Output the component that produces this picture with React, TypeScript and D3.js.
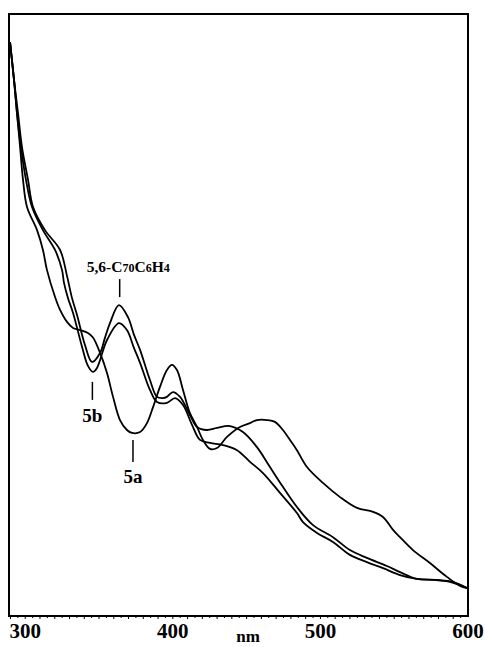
import React from 'react';
import * as d3 from 'd3';

// wavelengths (nm) and absorbance
const nm5a = [289.7, 292.4, 294.4, 296.5, 298.5, 301.2, 308.0, 312.0, 314.7, 320.2, 323.6, 328.3, 332.4, 337.1, 342.5, 345.9, 350.7, 355.4, 359.5, 364.2, 368.9, 372.3, 377.8, 382.5, 386.6, 391.3, 396.0, 399.4, 402.8, 406.9, 411.6, 416.4, 420.4, 425.2, 429.9, 436.7, 445.5, 452.3, 457.0, 463.8, 469.2, 474.6, 479.4, 484.1, 490.9, 501.7, 513.3, 524.8, 535.6, 542.4, 549.2, 553.9, 562.7, 574.2, 585.7, 594.6, 599.3];
const abs5a = [1.907, 1.781, 1.671, 1.558, 1.449, 1.359, 1.282, 1.216, 1.150, 1.060, 1.017, 0.977, 0.957, 0.950, 0.940, 0.925, 0.874, 0.807, 0.728, 0.651, 0.618, 0.608, 0.611, 0.641, 0.694, 0.761, 0.817, 0.834, 0.817, 0.751, 0.674, 0.628, 0.585, 0.555, 0.558, 0.595, 0.628, 0.641, 0.651, 0.651, 0.645, 0.618, 0.585, 0.551, 0.495, 0.442, 0.395, 0.359, 0.346, 0.329, 0.286, 0.262, 0.219, 0.176, 0.130, 0.100, 0.093];

const nmC70 = [289.7, 292.4, 295.1, 297.8, 301.9, 305.3, 313.4, 323.6, 328.3, 331.7, 335.1, 340.5, 345.2, 350.7, 354.0, 357.4, 363.5, 369.6, 373.7, 377.8, 384.5, 389.3, 393.3, 396.0, 400.1, 404.9, 411.6, 416.4, 423.1, 429.9, 438.7, 447.5, 457.0, 465.8, 474.6, 484.1, 495.0, 508.5, 520.0, 531.5, 545.1, 553.9, 565.4, 576.3, 587.8, 599.3];
const absC70 = [1.907, 1.781, 1.671, 1.558, 1.449, 1.359, 1.282, 1.216, 1.130, 1.056, 1.000, 0.900, 0.844, 0.874, 0.924, 0.973, 1.033, 0.993, 0.934, 0.884, 0.784, 0.728, 0.724, 0.728, 0.744, 0.728, 0.668, 0.628, 0.618, 0.625, 0.631, 0.611, 0.561, 0.495, 0.429, 0.362, 0.302, 0.262, 0.219, 0.193, 0.166, 0.146, 0.123, 0.120, 0.113, 0.093];

const nm5b = [289.7, 292.4, 294.4, 297.1, 300.5, 304.6, 312.0, 320.2, 324.9, 326.3, 329.0, 332.4, 338.5, 342.5, 345.9, 348.6, 355.4, 363.5, 368.9, 373.7, 377.8, 384.5, 389.3, 396.0, 401.5, 406.9, 413.0, 418.4, 425.2, 434.0, 443.5, 452.3, 461.1, 472.6, 484.1, 488.2, 497.7, 508.5, 520.0, 531.5, 542.4, 553.9, 565.4, 579.0, 589.8, 599.3];
const abs5b = [1.907, 1.781, 1.671, 1.558, 1.449, 1.359, 1.282, 1.216, 1.150, 1.106, 1.056, 1.007, 0.894, 0.831, 0.811, 0.824, 0.917, 0.973, 0.950, 0.890, 0.841, 0.751, 0.711, 0.708, 0.724, 0.701, 0.635, 0.585, 0.575, 0.568, 0.551, 0.512, 0.475, 0.409, 0.342, 0.312, 0.276, 0.246, 0.203, 0.179, 0.159, 0.136, 0.123, 0.120, 0.113, 0.093];

const xTickValues = [300, 400, 500, 600];
const xAxisTitle = 'nm';

// label anchors: [wavelength, absorbance] of the marked feature
const labelC70 = { nm: 364, a: 1.033 };
const label5b = { nm: 345.5, a: 0.811 };
const label5a = { nm: 373, a: 0.608 };

const W = 485;
const H = 647;
const frame = { left: 9, right: 468, top: 14, bottom: 616 };
const serif = '"Liberation Serif", "Times New Roman", serif';

export default function App() {
  const x = d3.scaleLinear().domain([289, 600]).range([frame.left, frame.right]);
  const y = d3.scaleLinear().domain([0, 2]).range([frame.bottom, frame.top]);

  const line = d3
    .line<[number, number]>()
    .x((d) => x(d[0]))
    .y((d) => y(d[1]))
    .curve(d3.curveCatmullRom.alpha(0.5));

  const series = [
    { id: '5a', nm: nm5a, abs: abs5a },
    { id: 'c70', nm: nmC70, abs: absC70 },
    { id: '5b', nm: nm5b, abs: abs5b },
  ];

  const minor = d3.range(290, 600, 5);

  return (
    <svg
      width={W}
      height={H}
      style={{ position: 'absolute', left: 0, top: 0, background: '#fff' }}
    >
      {series.map((s) => (
        <path
          key={s.id}
          d={line(s.nm.map((v, i) => [v, s.abs[i]] as [number, number])) || ''}
          fill="none"
          stroke="#000"
          strokeWidth={1.8}
        />
      ))}

      {/* frame */}
      <rect
        x={frame.left}
        y={frame.top}
        width={frame.right - frame.left}
        height={frame.bottom - frame.top}
        fill="none"
        stroke="#000"
        strokeWidth={2}
      />

      {/* minor ticks */}
      {minor.map((t) => (
        <line
          key={t}
          x1={x(t)}
          x2={x(t)}
          y1={frame.bottom}
          y2={frame.bottom + (t % 10 === 0 ? 3 : 2)}
          stroke="#000"
          strokeWidth={1}
        />
      ))}

      {xTickValues.map((t) => (
        <text
          key={t}
          x={x(t)}
          y={638}
          textAnchor="middle"
          fontFamily={serif}
          fontWeight="bold"
          fontSize={21}
        >
          {t}
        </text>
      ))}
      <text
        x={x(451)}
        y={642}
        textAnchor="middle"
        fontFamily={serif}
        fontWeight="bold"
        fontSize={17}
      >
        {xAxisTitle}
      </text>

      {/* 5,6-C70C6H4 label */}
      <line
        x1={x(labelC70.nm)}
        x2={x(labelC70.nm)}
        y1={y(labelC70.a) - 26}
        y2={y(labelC70.a) - 8}
        stroke="#000"
        strokeWidth={1.5}
      />
      <text
        x={x(labelC70.nm) - 33}
        y={y(labelC70.a) - 33}
        fontFamily={serif}
        fontWeight="bold"
        fontSize={15.5}
      >
        5,6-C<tspan fontSize={12}>70</tspan>C<tspan fontSize={12}>6</tspan>H<tspan fontSize={12}>4</tspan>
      </text>

      {/* 5b label */}
      <line
        x1={x(label5b.nm)}
        x2={x(label5b.nm)}
        y1={y(label5b.a) + 10}
        y2={y(label5b.a) + 28}
        stroke="#000"
        strokeWidth={1.5}
      />
      <text
        x={x(label5b.nm)}
        y={y(label5b.a) + 50}
        textAnchor="middle"
        fontFamily={serif}
        fontWeight="bold"
        fontSize={19}
      >
        5b
      </text>

      {/* 5a label */}
      <line
        x1={x(label5a.nm)}
        x2={x(label5a.nm)}
        y1={y(label5a.a) + 7}
        y2={y(label5a.a) + 29}
        stroke="#000"
        strokeWidth={1.5}
      />
      <text
        x={x(label5a.nm)}
        y={y(label5a.a) + 50}
        textAnchor="middle"
        fontFamily={serif}
        fontWeight="bold"
        fontSize={19}
      >
        5a
      </text>
    </svg>
  );
}
